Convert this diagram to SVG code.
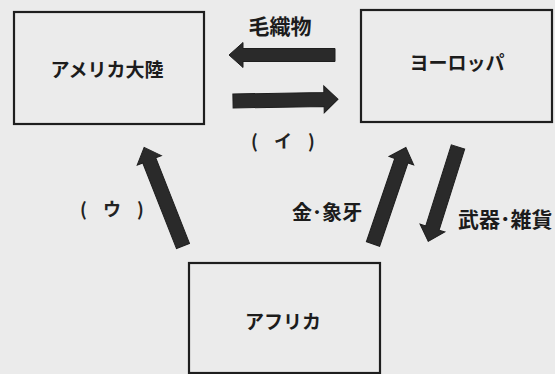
<svg xmlns="http://www.w3.org/2000/svg" width="555" height="374" viewBox="0 0 555 374">
<style>
.box{fill:none;stroke:#1e1e1e;stroke-width:2.2}
.lbl{font-family:"Noto Sans CJK JP","Noto Sans",sans-serif;font-weight:bold;font-size:19px;fill:#1c1c1c;text-anchor:middle}
.big{font-size:21px}
.par{font-family:"Noto Sans CJK JP","Noto Sans",sans-serif;font-weight:bold;font-size:18px;fill:#222;text-anchor:middle;letter-spacing:6px}
.arr{fill:#2a2a2a;stroke:#1e1e1e;stroke-width:1}
</style>
<rect width="555" height="374" fill="#ebebeb"/>
<g id="america">
<rect class="box" x="14" y="12" width="190" height="112"/>
<text class="lbl" x="107" y="77">アメリカ大陸</text>
</g>
<g id="europe">
<rect class="box" x="361" y="10" width="191" height="112"/>
<text class="lbl" x="457" y="70">ヨーロッパ</text>
</g>
<g id="africa">
<rect class="box" x="189" y="263" width="191" height="110"/>
<text class="lbl" x="283" y="329">アフリカ</text>
</g>
<g id="connectors">
<g transform="translate(335,55) rotate(180)"><polygon class="arr" points="0,-6.5 92,-6.5 92,-12.5 106,0 92,12.5 92,6.5 0,6.5"/></g>
<g transform="translate(233,101) rotate(-1)"><polygon class="arr" points="0,-7 91,-7 91,-13.5 105,0 91,13.5 91,7 0,7"/></g>
<g transform="translate(183,246) rotate(-111.5)"><polygon class="arr" points="0,-7 92,-7 92,-13 106,0 92,13 92,7 0,7"/></g>
<g transform="translate(373,244) rotate(-71.2)"><polygon class="arr" points="0,-7 88,-7 88,-13 102,0 88,13 88,7 0,7"/></g>
<g transform="translate(458,147) rotate(107.5)"><polygon class="arr" points="0,-7 85,-7 85,-13 99,0 85,13 85,7 0,7"/></g>
</g>
<g id="labels">
<text class="lbl big" x="280" y="34">毛織物</text>
<text class="par" x="286" y="148">( イ )</text>
<text class="par" x="115" y="216">( ウ )</text>
<text class="lbl" x="327" y="220" style="font-size:20px">金･象牙</text>
<text class="lbl big" x="458" y="227" style="text-anchor:start">武器･雑貨</text>
</g>
</svg>
